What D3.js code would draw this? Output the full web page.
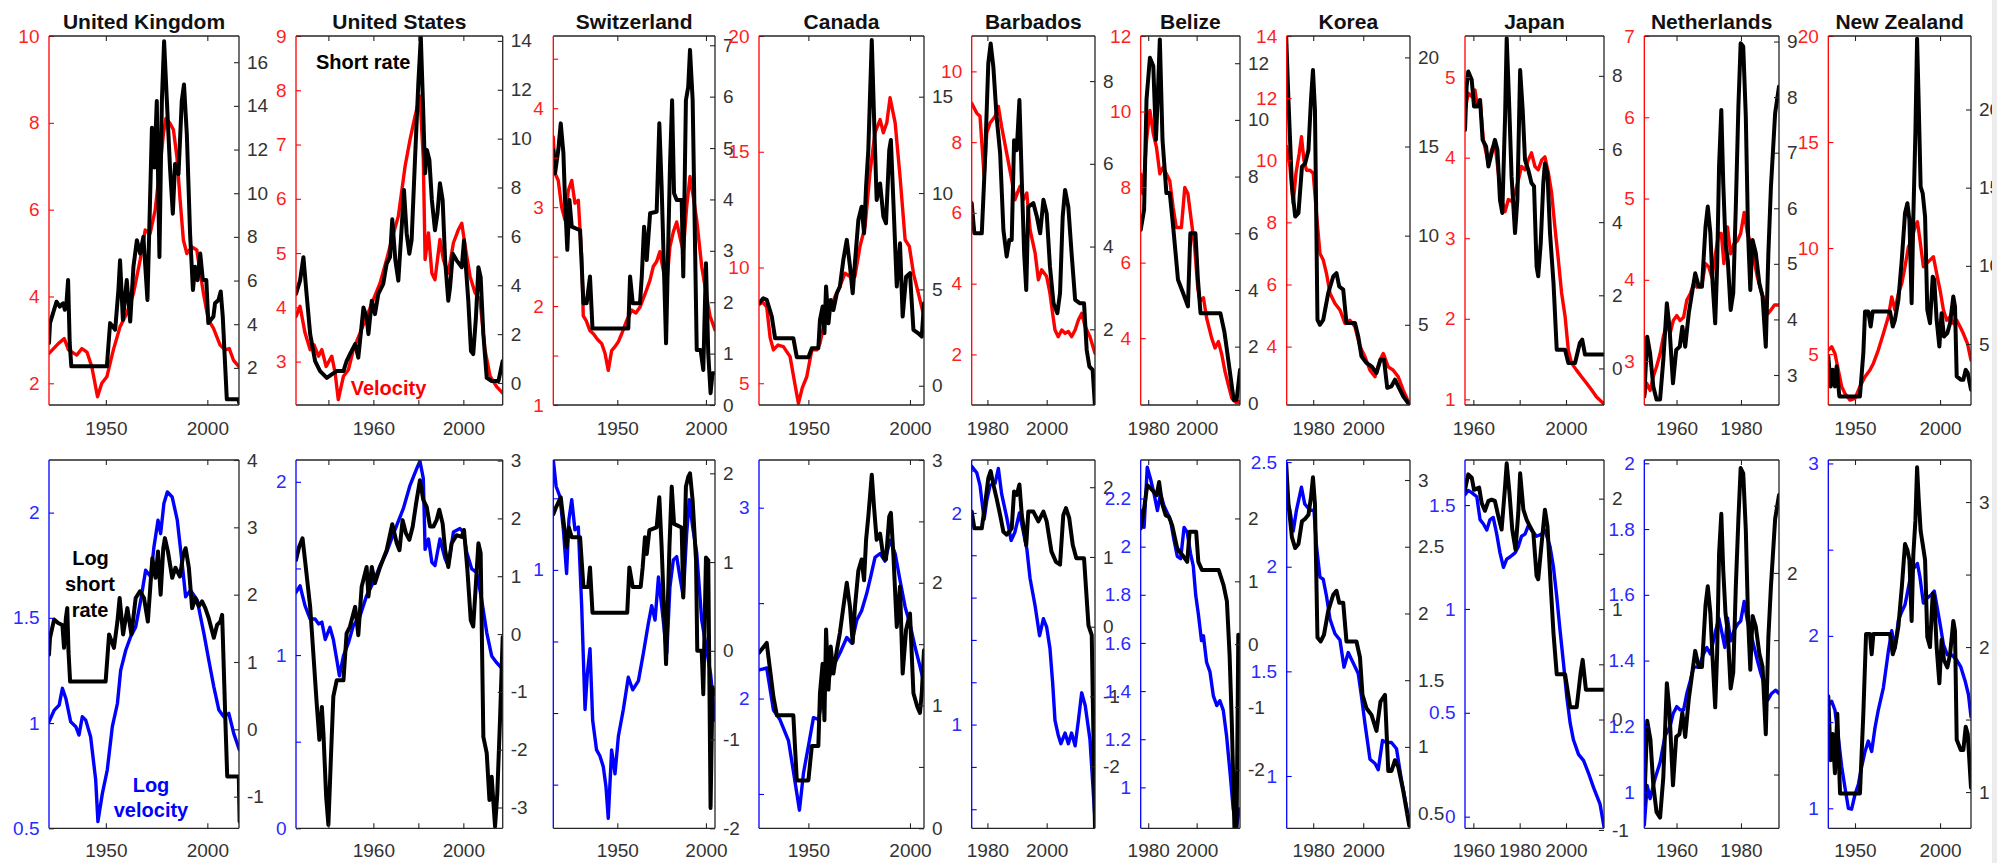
<!DOCTYPE html>
<html>
<head>
<meta charset="utf-8">
<script src="https://cdn.jsdelivr.net/npm/d3@7"></script>
<style>
  html, body { margin: 0; padding: 0; background: #ffffff; }
  svg { display: block; font-family: "Liberation Sans", Arial, Helvetica, sans-serif; }
</style>
</head>
<body>
<script>
// ---------------------------------------------------------------------------
// Series: [year, value]. Top row: velocity (left axis) and short rate (right
// axis). Bottom row: log velocity (left axis) and log short rate (right axis).
// ---------------------------------------------------------------------------
const countries = ["United Kingdom", "United States", "Switzerland", "Canada", "Barbados",
                   "Belize", "Korea", "Japan", "Netherlands", "New Zealand"];

// United Kingdom
const velocityUK = [[1922,2.69],[1926.7,2.92],[1929.5,3.03],[1931.6,2.77],[1935.7,2.65],[1938.2,2.8],[1940.7,2.72],[1943.1,2.38],[1945.9,1.69],[1948,2.0],[1950.5,2.15],[1953.7,2.77],[1957,3.3],[1960.3,3.61],[1963.6,4.07],[1966.9,4.84],[1969.4,5.53],[1971.8,5.45],[1974.3,5.99],[1976.7,6.99],[1978.4,7.76],[1979.6,8.1],[1981.6,7.99],[1983.3,7.84],[1985,7.22],[1986.6,6.22],[1988.2,5.3],[1989.9,4.99],[1992.4,5.14],[1994.8,5.07],[1998.1,4.07],[2000.5,3.46],[2003,3.27],[2006.3,2.88],[2008.7,2.77],[2010.8,2.8],[2012.9,2.53],[2015.7,2.38]];
const shortRateUK = [[1922,3.14],[1922.5,4.05],[1925.7,5.03],[1927.3,4.81],[1929,4.96],[1929.8,4.66],[1930.6,4.96],[1931.4,6.02],[1932.2,3.14],[1933,2.07],[1950.5,2.07],[1952.1,4.05],[1954.6,3.75],[1956.2,5.57],[1957,6.93],[1958.4,4.2],[1960.3,6.02],[1962,4.12],[1963.6,6.63],[1965.3,7.85],[1966.9,7.24],[1968.5,8.0],[1970.5,5.11],[1972.7,13.0],[1973.9,11.18],[1975.1,14.22],[1976.4,7.08],[1977.6,14.22],[1978.7,16.96],[1980,14.37],[1981.6,11.18],[1983,9.06],[1984.1,11.34],[1985.8,10.88],[1987.4,14.22],[1988.5,14.98],[1989.9,12.7],[1991.5,8.15],[1992.9,5.57],[1994,6.63],[1995.2,6.02],[1996.5,7.24],[1997.8,6.02],[1999.5,6.02],[2000.5,4.05],[2003,4.35],[2003.8,4.96],[2005.5,5.11],[2006.6,5.5],[2007.6,4.35],[2009.6,0.56],[2015.4,0.56],[2015.7,0.4]];
const logVelocityUK = [[1922,1.006],[1924.5,1.06],[1927,1.085],[1928.6,1.165],[1930.3,1.117],[1932.7,1.006],[1935.2,0.983],[1936.8,0.943],[1938.4,1.03],[1940.1,1.014],[1942.5,0.935],[1945,0.73],[1946.1,0.532],[1948.3,0.666],[1950.7,0.777],[1953.2,0.983],[1955.7,1.093],[1957.3,1.25],[1959.8,1.346],[1962.2,1.41],[1964.7,1.457],[1967.2,1.584],[1969.6,1.726],[1972.1,1.695],[1973.7,1.837],[1975.7,1.964],[1977,1.9],[1978.6,2.043],[1980.3,2.098],[1982.7,2.074],[1985.2,1.964],[1987.6,1.758],[1989.3,1.6],[1991.7,1.631],[1995,1.584],[1998.3,1.426],[2000.7,1.3],[2003.2,1.172],[2005.7,1.062],[2008.1,1.03],[2010.6,1.046],[2013,0.951],[2015.8,0.872]];
const logShortRateUK = [[1922,1.11],[1922.5,1.36],[1924.5,1.63],[1926.5,1.58],[1928.6,1.55],[1929.4,1.21],[1930.3,1.65],[1931,1.8],[1931.6,1.16],[1932.4,0.71],[1949.9,0.71],[1951.6,1.41],[1954,1.21],[1955.7,1.6],[1956.8,1.95],[1958.5,1.41],[1960.6,1.8],[1962.6,1.41],[1964.7,1.95],[1966.8,2.05],[1968.8,1.95],[1970.7,1.6],[1972.9,2.54],[1974.5,2.25],[1975.7,2.64],[1977,2.0],[1978.3,2.69],[1979.1,2.84],[1980.6,2.64],[1982.7,2.25],[1984.3,2.4],[1986.5,2.27],[1988.1,2.59],[1989.3,2.69],[1990.9,2.4],[1992.5,1.8],[1994.1,1.95],[1995.8,1.83],[1997.4,1.9],[1999,1.8],[2000.7,1.65],[2003.2,1.36],[2004.8,1.55],[2006.4,1.6],[2007.3,1.7],[2008.9,0.12],[2009.8,-0.7],[2015.5,-0.7],[2015.9,-1.37]];

// United States
const velocityUS = [[1925.6,3.83],[1927.4,4.02],[1929.6,3.53],[1931.9,3.22],[1933.6,3.31],[1935.6,3.1],[1937.1,3.22],[1939,2.91],[1941.5,3.1],[1943,2.79],[1944.4,2.3],[1946.7,2.73],[1948.9,2.85],[1951.1,3.22],[1954.1,3.53],[1957,3.83],[1960,4.14],[1963,4.45],[1965.9,4.88],[1968.2,5.25],[1971.1,5.68],[1974.1,6.6],[1976.3,7.09],[1978.5,7.52],[1980.7,7.89],[1982.2,6.73],[1983,4.88],[1984.5,5.37],[1986,4.63],[1987.4,4.51],[1989.6,5.25],[1991.1,4.88],[1993.3,4.63],[1995.6,5.19],[1997.8,5.43],[1999.3,5.55],[2000.8,5.13],[2003,4.57],[2005.2,4.27],[2007.4,4.14],[2009.6,3.22],[2011.9,2.73],[2014.8,2.54],[2017.5,2.42]];
const shortRateUS = [[1925.6,3.65],[1927.4,4.19],[1928.9,5.15],[1930.3,3.65],[1931.9,2.0],[1934.1,0.9],[1936.3,0.49],[1939.3,0.21],[1941.5,0.35],[1943.7,0.49],[1946.7,0.49],[1948.1,0.9],[1949.6,1.18],[1951.9,1.59],[1953.3,1.04],[1955.6,3.09],[1957,2.68],[1957.8,2.0],[1959.3,3.37],[1960.7,2.82],[1962.2,3.65],[1964.4,4.06],[1965.9,4.88],[1967.4,5.15],[1968.4,6.7],[1969.8,5.0],[1971.1,4.19],[1972.6,6.39],[1973.6,7.9],[1974.8,6.12],[1976,5.29],[1977,5.84],[1978.5,9.13],[1980,12.29],[1981.1,14.14],[1982,11.6],[1983,8.58],[1983.8,9.54],[1984.9,9.13],[1986,7.49],[1987.4,6.25],[1988.5,6.94],[1989.6,8.17],[1990.8,7.49],[1991.9,5.02],[1993.3,3.37],[1994.1,3.92],[1995.3,5.29],[1997,5.02],[1999.3,4.74],[2000.3,5.84],[2002.2,3.37],[2003.4,1.31],[2004.4,1.18],[2005.6,2.68],[2006.7,4.74],[2007.7,4.33],[2008.9,2.0],[2010.4,0.21],[2012.6,0.08],[2015.6,0.08],[2017.5,0.9]];
const logVelocityUS = [[1925.6,1.362],[1927.4,1.4],[1929.6,1.285],[1931.9,1.208],[1934.1,1.208],[1935.6,1.18],[1937.1,1.19],[1938.6,1.09],[1940.7,1.16],[1942.2,1.09],[1943.7,0.976],[1944.9,0.88],[1946.7,0.995],[1948.9,1.07],[1951.1,1.17],[1954.1,1.227],[1957,1.343],[1960,1.42],[1963,1.517],[1965.9,1.594],[1968.9,1.7],[1973.3,1.845],[1976.3,1.98],[1979.3,2.077],[1980.7,2.12],[1982.2,2.02],[1983,1.61],[1984.5,1.67],[1986,1.536],[1987.4,1.517],[1989.6,1.67],[1991.9,1.556],[1993.3,1.517],[1995.6,1.71],[1998.5,1.73],[2000,1.71],[2001.5,1.594],[2003.7,1.498],[2005.9,1.478],[2008.1,1.324],[2010.4,1.13],[2012.6,0.995],[2014.8,0.956],[2017.5,0.918]];
const logShortRateUS = [[1925.6,1.28],[1927,1.51],[1928.5,1.655],[1929.6,1.28],[1931.9,0.47],[1933.3,-0.33],[1934.8,-1.2],[1936,-1.83],[1937.1,-1.26],[1937.8,-1.72],[1939,-2.81],[1940,-3.3],[1941.2,-2.06],[1942.2,-1.08],[1943.7,-0.8],[1946.7,-0.8],[1948.1,0.01],[1949.6,0.13],[1951.9,0.47],[1953.3,-0.02],[1954.8,0.82],[1957,1.16],[1957.8,0.65],[1959.3,1.16],[1960.7,0.88],[1963,1.16],[1965.9,1.45],[1968.4,1.9],[1970.4,1.57],[1971.6,1.45],[1973,1.97],[1974.5,1.74],[1976,1.63],[1977.5,1.86],[1979,2.26],[1980.7,2.66],[1982.2,2.32],[1983.7,2.2],[1985.2,1.86],[1986.7,1.86],[1988.1,1.97],[1989.3,2.15],[1990.8,1.91],[1991.9,1.45],[1993.3,1.16],[1994.8,1.57],[1997,1.71],[1999.3,1.68],[2000.3,1.8],[2001.8,1.11],[2003.3,0.24],[2004.4,0.13],[2005.6,0.88],[2006.7,1.57],[2007.7,1.4],[2008.9,-1.78],[2010.4,-2.06],[2011.6,-2.87],[2012.6,-2.47],[2014.1,-3.33],[2015.1,-2.76],[2016.3,-1.49],[2017.5,-0.05]];

// Switzerland
const velocityCH = [[1913.9,3.71],[1914.9,3.34],[1916.7,3.27],[1918.6,3.0],[1920.5,2.87],[1922.4,3.17],[1924.3,3.27],[1926.1,3.04],[1928,3.07],[1929.9,2.5],[1930.8,1.9],[1932.5,1.85],[1934.6,1.75],[1936.5,1.72],[1939,1.66],[1941.2,1.62],[1943.1,1.52],[1944.9,1.35],[1946.8,1.55],[1948.7,1.59],[1950.6,1.64],[1952.5,1.72],[1955.2,1.85],[1958.1,1.96],[1960.5,1.93],[1962.8,1.99],[1965.6,2.12],[1968.4,2.26],[1970.3,2.4],[1972.2,2.45],[1974,2.55],[1975.5,2.4],[1977.7,2.2],[1979.7,2.6],[1981.6,2.75],[1983.5,2.85],[1985.3,2.7],[1987.2,2.55],[1989.1,3.0],[1991,3.31],[1992.9,3.1],[1994.8,2.87],[1997.6,2.4],[2000.4,2.1],[2002.3,1.9],[2005.1,1.76]];
const shortRateCH = [[1913.9,4.96],[1914.9,4.51],[1916.7,4.96],[1918.1,5.48],[1919.6,4.9],[1920.5,3.99],[1921.8,3.02],[1923,3.99],[1924.3,3.47],[1929,3.4],[1930.9,1.98],[1932.7,1.98],[1934.6,2.5],[1936,1.49],[1956.2,1.49],[1957.2,2.5],[1958.7,1.98],[1962.8,1.98],[1963.8,2.5],[1965.1,3.47],[1966.6,2.82],[1968.5,3.73],[1972.2,3.76],[1973.7,5.48],[1975,4.25],[1977.5,1.2],[1979.7,4.64],[1980.9,5.93],[1982,4.12],[1983.5,3.99],[1986.3,3.99],[1987.2,2.5],[1988.7,5.93],[1990,6.19],[1991,6.91],[1992.5,5.93],[1994.8,1.07],[1997,1.07],[1998.5,0.68],[2000,2.76],[2001.3,1.0],[2002.6,0.23],[2003.7,0.62],[2005.1,0.62]];
const logVelocityCH = [[1913.9,1.307],[1915.5,1.233],[1917.6,1.205],[1919.6,1.112],[1921.4,0.99],[1922.7,1.14],[1924.3,1.196],[1926.1,1.112],[1928,1.12],[1929.9,0.9],[1931.8,0.61],[1933.1,0.71],[1934.6,0.78],[1936.1,0.58],[1938.3,0.497],[1940.2,0.48],[1942.1,0.45],[1943.6,0.395],[1944.9,0.306],[1946.8,0.497],[1948.7,0.43],[1950.6,0.535],[1953.4,0.61],[1956.2,0.7],[1958.7,0.665],[1961.9,0.69],[1964.7,0.767],[1967.5,0.85],[1969.4,0.9],[1971.3,0.86],[1973.2,0.98],[1975,0.9],[1977.9,0.767],[1979.7,0.953],[1981.6,1.028],[1983.5,1.037],[1985.3,0.98],[1987.2,0.926],[1989.1,1.1],[1990.6,1.196],[1992.5,1.12],[1994.8,1.047],[1997.6,0.86],[2000.4,0.777],[2002.6,0.71],[2005.1,0.58]];
const logShortRateCH = [[1913.9,1.54],[1915.5,1.62],[1918.1,1.73],[1919.6,1.47],[1921.4,1.17],[1922.7,1.39],[1924.3,1.28],[1929,1.28],[1930.9,0.72],[1933.6,0.72],[1934.6,0.94],[1936,0.43],[1955.6,0.43],[1956.8,0.94],[1958.7,0.72],[1963.2,0.72],[1964.3,0.94],[1965.6,1.28],[1966.6,1.09],[1968.1,1.36],[1972.2,1.39],[1973.7,1.73],[1975,1.17],[1977.5,-0.15],[1979.4,1.17],[1980.7,1.85],[1982,1.43],[1986.3,1.39],[1987.2,0.6],[1988.7,1.85],[1990,1.96],[1991,2.0],[1992.5,1.69],[1994.4,1.02],[1995.1,0.0],[1997.6,0.0],[1998.5,-0.49],[2000,1.05],[2001.3,1.02],[2002.6,-1.77],[2003.7,-0.41],[2005.1,-0.49]];

// Canada
const velocityCA = [[1925.7,8.4],[1927.5,8.5],[1929.5,8.3],[1930.5,7.5],[1931.2,6.96],[1932.8,6.44],[1935,6.65],[1937.7,6.58],[1941,6.15],[1943.3,5.0],[1945.1,4.13],[1947,4.8],[1949.2,5.28],[1951.7,6.44],[1954.1,6.44],[1955.7,6.72],[1958.2,7.73],[1960.6,8.17],[1963.1,8.74],[1965.5,9.18],[1968,9.75],[1970.5,9.61],[1972.9,9.61],[1975.4,10.91],[1977.9,11.77],[1980.3,14.08],[1982.8,15.82],[1985.3,16.39],[1986.9,15.82],[1988.6,16.25],[1990.2,17.33],[1992.7,16.25],[1995.1,13.94],[1997.6,11.2],[1999.7,10.91],[2001.7,9.75],[2004.1,8.89],[2006.9,7.88]];
const shortRateCA = [[1925.7,4.28],[1927.8,4.54],[1929.5,4.46],[1932,3.59],[1933.6,2.47],[1942.6,2.47],[1944.3,1.48],[1950,1.48],[1951.7,1.95],[1954.9,1.95],[1955.7,3.42],[1957,4.11],[1957.9,2.73],[1958.7,5.15],[1959.9,3.24],[1961,4.45],[1962.3,3.93],[1964,4.8],[1965.5,5.15],[1967.2,6.53],[1968.9,7.57],[1970.5,6.18],[1971.8,4.8],[1972.9,6.36],[1974.6,8.6],[1976.2,9.29],[1977.4,7.91],[1978.4,10.33],[1979.5,12.23],[1981.2,17.94],[1982.3,13.96],[1983.6,9.64],[1985.3,10.5],[1986.9,8.78],[1988.2,8.43],[1989.8,12.23],[1990.6,12.75],[1991.8,9.64],[1993.5,5.15],[1995.1,7.39],[1996.4,3.59],[1998.1,5.66],[2000,5.84],[2001.7,2.9],[2004.1,2.72],[2005.8,2.55],[2006.9,4.28]];
const logVelocityCA = [[1925.7,2.15],[1929.5,2.16],[1932.8,1.94],[1936,1.89],[1940.2,1.78],[1942.6,1.62],[1945.6,1.415],[1947.6,1.61],[1950,1.75],[1952.5,1.9],[1955,1.89],[1957.4,2.03],[1959.9,2.1],[1962.3,2.17],[1965.6,2.24],[1968.9,2.32],[1971.3,2.29],[1973.8,2.41],[1976.2,2.46],[1978.7,2.55],[1980.7,2.64],[1982.8,2.74],[1985.3,2.76],[1987.7,2.72],[1990.2,2.83],[1992.7,2.76],[1995.1,2.62],[1997.6,2.48],[2000,2.39],[2002.5,2.27],[2004.9,2.17],[2006.9,2.08]];
const logShortRateCA = [[1925.7,1.43],[1929.5,1.51],[1932.8,1.07],[1934.5,0.92],[1942.6,0.92],[1944.3,0.39],[1950,0.39],[1951.7,0.67],[1954.9,0.67],[1955.7,1.1],[1957,1.34],[1957.9,0.88],[1958.7,1.62],[1959.9,1.13],[1961,1.48],[1962.3,1.26],[1964,1.45],[1965.5,1.59],[1967.2,1.8],[1968.9,2.0],[1970.5,1.8],[1971.8,1.51],[1972.9,1.8],[1974.6,2.1],[1976.2,2.19],[1977.4,2.02],[1978.4,2.35],[1979.5,2.54],[1981.2,2.88],[1982.3,2.62],[1983.6,2.35],[1985.3,2.4],[1986.9,2.21],[1988.2,2.19],[1989.8,2.54],[1990.6,2.57],[1991.8,2.24],[1993.5,1.64],[1995.1,1.97],[1996.4,1.26],[1998.1,1.62],[2000,1.75],[2001.7,1.1],[2003.6,0.99],[2004.9,0.94],[2005.8,1.1],[2006.9,1.45]];

// Barbados
const velocityBB = [[1974.7,9.1],[1976.4,8.82],[1977.5,8.73],[1978.9,7.03],[1979.8,8.26],[1980.9,8.54],[1982.6,8.73],[1983.7,9.01],[1984.8,8.44],[1986.5,7.69],[1988.2,6.94],[1989.3,6.37],[1990.1,6.56],[1991,6.75],[1992.1,6.37],[1993.3,6.56],[1994.4,5.52],[1996.1,4.86],[1997.2,4.11],[1998.3,4.39],[2000,4.2],[2001.1,3.73],[2002,3.16],[2002.8,2.69],[2003.9,2.5],[2005.1,2.69],[2006.2,2.6],[2007.3,2.65],[2008.4,2.5],[2009.6,2.69],[2010.7,2.97],[2011.8,3.16],[2013,2.79],[2014.6,2.5],[2016.3,2.03]];
const shortRateBB = [[1974.7,5.05],[1975.6,4.32],[1978.1,4.32],[1979.2,6.09],[1980.3,8.43],[1981.1,8.91],[1982,8.35],[1983.1,7.14],[1984.3,6.25],[1985.4,4.4],[1986.5,3.76],[1987.4,4.16],[1988.2,4.16],[1989,6.57],[1989.9,6.33],[1990.8,7.54],[1991.6,5.61],[1992.4,3.84],[1993.1,2.95],[1993.8,4.96],[1995.5,5.05],[1996.7,4.72],[1997.8,4.32],[1998.9,5.13],[2000,4.8],[2001.1,3.52],[2002.3,2.63],[2003.6,2.39],[2004.5,2.87],[2005.4,4.72],[2006.2,5.37],[2007.3,4.96],[2008.4,3.84],[2009.6,2.71],[2011.2,2.63],[2012.6,2.63],[2013.5,1.5],[2014.4,1.1],[2015.5,1.02],[2016.3,0.13]];
const logVelocityBB = [[1974.7,2.22],[1976.4,2.19],[1977.5,2.13],[1978.9,1.97],[1979.8,2.06],[1980.9,2.13],[1982.6,2.14],[1983.7,2.21],[1984.8,2.09],[1986.5,1.98],[1988,1.87],[1989.3,1.91],[1990.8,2.0],[1992,1.92],[1993.3,1.83],[1994.4,1.69],[1996.1,1.56],[1997.6,1.42],[1998.9,1.5],[2000,1.46],[2001.1,1.36],[2002,1.2],[2002.8,1.02],[2003.9,0.95],[2004.8,0.91],[2006.2,0.96],[2007.3,0.91],[2008.4,0.96],[2009.6,0.9],[2010.7,1.02],[2011.8,1.15],[2013,1.09],[2014.6,0.93],[2016.3,0.55]];
const logShortRateBB = [[1974.7,1.65],[1975.6,1.41],[1978.1,1.41],[1979.2,1.75],[1980.3,2.13],[1981.1,2.23],[1982,2.04],[1983.1,1.84],[1984.3,1.6],[1985.4,1.36],[1986.5,1.32],[1988.2,1.41],[1989,1.94],[1989.9,1.89],[1990.8,2.04],[1991.6,1.6],[1993.1,1.17],[1993.8,1.65],[1995.5,1.65],[1997.2,1.51],[1998.9,1.65],[2000,1.51],[2001.6,1.08],[2003.1,0.93],[2004.5,0.89],[2005.6,1.6],[2006.5,1.7],[2007.6,1.56],[2008.8,1.17],[2010,0.98],[2012.6,0.98],[2014.1,0.02],[2015.2,-0.12],[2016.3,-2.9]];

// Belize
const velocityBZ = [[1976.9,8.35],[1977.8,7.82],[1979.3,9.23],[1980.7,10.03],[1982.1,9.41],[1983.4,9.06],[1984.8,8.35],[1986.1,8.52],[1987.5,8.35],[1988.9,8.17],[1990.3,7.46],[1991.6,6.93],[1993.7,6.93],[1995.1,7.99],[1996.4,7.82],[1997.8,7.11],[1999.2,6.4],[2000.5,5.3],[2001.4,4.98],[2002.8,5.07],[2004.1,4.54],[2006.2,4.0],[2007.6,3.74],[2009,3.91],[2010.4,3.56],[2011.7,3.12],[2013.1,2.76],[2014.5,2.41],[2015.8,2.32],[2017.9,2.32]];
const shortRateBZ = [[1976.9,6.12],[1978.3,6.83],[1979.3,10.72],[1980.7,12.19],[1982.1,11.9],[1983.2,9.3],[1983.9,10.72],[1984.8,12.84],[1985.9,9.3],[1987.5,7.42],[1988.9,7.42],[1990.3,6.24],[1992.3,4.36],[1994.4,3.89],[1996.4,3.42],[1997.4,6.0],[1999.5,6.0],[2000.5,4.4],[2001.6,3.18],[2009.8,3.18],[2011.5,2.5],[2012.5,1.88],[2015.3,0.12],[2016.5,0.12],[2017.9,1.18]];
const logVelocityBZ = [[1976.9,2.15],[1978.3,2.08],[1979.6,2.33],[1981,2.28],[1982.4,2.22],[1983.8,2.15],[1985.1,2.22],[1986.5,2.17],[1987.9,2.14],[1989.2,2.11],[1990.6,2.03],[1992,1.96],[1993.4,1.95],[1994.8,2.08],[1996.1,2.06],[1997.5,1.97],[1998.6,1.92],[1999.6,1.8],[2000.7,1.72],[2002,1.61],[2002.8,1.63],[2004.1,1.52],[2005.5,1.48],[2006.9,1.38],[2008.3,1.34],[2009.6,1.36],[2011,1.32],[2012.4,1.21],[2013.8,1.06],[2015.1,0.91],[2016.5,0.84],[2017.6,0.91]];
const logShortRateBZ = [[1976.9,1.84],[1978.3,2.16],[1979.6,2.53],[1981,2.48],[1982.4,2.42],[1983.5,2.37],[1984.5,2.58],[1985.6,2.26],[1987.2,2.05],[1988.5,2.03],[1989.9,1.89],[1992,1.52],[1994.1,1.42],[1996.1,1.31],[1997.1,1.79],[1999.8,1.79],[2000.7,1.31],[2002.2,1.18],[2009.1,1.18],[2011.1,0.94],[2012.5,0.68],[2013.6,-0.17],[2014.5,-1.23],[2015.6,-2.92],[2016.5,-2.92],[2017.2,0.15]];

// Korea
const velocityKR = [[1969.4,10.44],[1970.7,9.79],[1972,8.61],[1973.1,9.58],[1974.4,10.22],[1975.3,10.76],[1976.3,10.0],[1977.3,9.68],[1978.7,9.68],[1980,9.58],[1981.3,8.29],[1982.7,7.0],[1984,6.79],[1985.3,6.36],[1986.7,5.72],[1988.7,5.39],[1990.7,5.18],[1992.7,4.75],[1994.7,4.85],[1996.7,4.64],[1998.7,4.0],[2000.7,3.67],[2002.7,3.24],[2004.7,3.03],[2006.7,3.57],[2008,3.78],[2010,3.35],[2012,3.24],[2014,3.03],[2016,2.6],[2018.7,2.12]];
const shortRateKR = [[1969.2,21.16],[1970.1,17.61],[1971.5,12.75],[1972.8,11.07],[1974.1,11.26],[1975.5,13.87],[1976.8,14.06],[1978.1,14.81],[1979.1,17.61],[1979.9,19.29],[1980.7,17.05],[1981.7,5.28],[1982.7,5.0],[1984,5.28],[1986,6.78],[1988,7.71],[1989.3,7.9],[1990.4,7.15],[1992,6.97],[1993.3,5.1],[1996.7,5.1],[1998,4.35],[1999.3,3.23],[2001.3,2.86],[2003.3,2.67],[2005.3,2.3],[2006.9,3.04],[2008.3,3.04],[2009.6,1.46],[2011.3,1.55],[2012.7,1.92],[2014,1.55],[2016,0.99],[2018.4,0.52]];
const logVelocityKR = [[1969.4,2.33],[1970.7,2.27],[1972,2.17],[1973.3,2.27],[1974.4,2.33],[1975.3,2.38],[1976.6,2.3],[1978.7,2.27],[1980.3,2.27],[1981.3,2.1],[1982.7,1.95],[1984,1.94],[1985.3,1.86],[1986.7,1.75],[1988.7,1.68],[1990.7,1.65],[1992.3,1.52],[1994,1.59],[1996,1.54],[1998,1.49],[1999.3,1.38],[2000.7,1.25],[2002.7,1.08],[2004.7,1.06],[2006,1.03],[2007.7,1.17],[2009.3,1.16],[2011.3,1.16],[2013.3,1.13],[2015.3,0.98],[2018.4,0.78]];
const logShortRateKR = [[1969.2,3.12],[1970.1,2.82],[1971.5,2.57],[1972.8,2.49],[1974.1,2.52],[1975.5,2.69],[1976.8,2.71],[1978.1,2.74],[1979.1,2.87],[1979.9,3.02],[1980.7,2.82],[1981.7,1.82],[1983,1.79],[1984.3,1.84],[1986,2.02],[1988,2.14],[1989.3,2.17],[1990.4,2.08],[1992,2.08],[1993.3,1.79],[1997.3,1.79],[1998.7,1.67],[1999.7,1.39],[2001.3,1.29],[2003.3,1.24],[2005.3,1.12],[2006.9,1.34],[2008.7,1.39],[2010,0.82],[2011.3,0.82],[2012.7,0.9],[2014,0.85],[2016,0.67],[2018.4,0.41]];

// Japan
const velocityJP = [[1956.4,4.59],[1957.8,4.8],[1959.3,4.76],[1960.7,4.84],[1961.7,4.64],[1962.9,4.72],[1964.3,4.22],[1966.5,3.93],[1967.9,4.1],[1969.3,4.18],[1970.8,3.81],[1972.2,3.48],[1973.7,3.33],[1975.1,3.48],[1976.5,3.46],[1978,3.56],[1979.4,3.72],[1980.8,3.89],[1982.3,3.85],[1983.7,3.97],[1985.1,4.06],[1986.6,3.89],[1988,3.85],[1989.5,3.97],[1990.9,4.01],[1992.4,3.81],[1993.8,3.56],[1995.2,3.14],[1996.7,2.73],[1998.1,2.32],[1999.6,2.03],[2001,1.61],[2002.4,1.45],[2004.6,1.36],[2006.7,1.28],[2008.9,1.2],[2011,1.12],[2013.2,1.03],[2016.1,0.95]];
const shortRateJP = [[1956.4,6.52],[1957.1,7.71],[1957.8,8.12],[1959.3,7.89],[1960.3,7.16],[1961.7,7.16],[1962.9,7.34],[1964,6.25],[1965.5,6.07],[1966.5,5.52],[1967.9,5.89],[1969.3,6.25],[1970.4,5.98],[1971.5,4.61],[1972.5,4.25],[1973.7,6.89],[1974.4,9.03],[1975.4,7.34],[1976.5,5.25],[1978,3.7],[1979,4.61],[1980.2,8.16],[1981.3,7.07],[1982.3,5.7],[1983.7,5.43],[1985.1,5.07],[1986.2,4.98],[1987.3,2.79],[1988,2.52],[1989.1,3.43],[1990.2,5.07],[1990.9,5.61],[1992,5.34],[1993.1,3.7],[1994.6,2.34],[1996,0.51],[1999.6,0.51],[2001,0.15],[2003.9,0.15],[2006,0.7],[2007,0.79],[2008.2,0.38],[2016.4,0.38]];
const logVelocityJP = [[1956.4,1.55],[1957.8,1.57],[1959.3,1.56],[1961.5,1.54],[1962.9,1.43],[1964.3,1.41],[1965.8,1.38],[1967.2,1.43],[1968.6,1.44],[1970.1,1.36],[1971.5,1.27],[1973,1.2],[1974.4,1.24],[1975.8,1.25],[1978,1.27],[1979.4,1.3],[1980.8,1.35],[1982.3,1.36],[1983.7,1.4],[1985.1,1.38],[1987.3,1.35],[1989.5,1.36],[1990.9,1.38],[1993.1,1.3],[1994.6,1.2],[1996,1.06],[1997.4,0.9],[1998.9,0.74],[2000.3,0.58],[2001.8,0.45],[2003.2,0.37],[2005.4,0.3],[2007.6,0.27],[2009.7,0.21],[2011.9,0.14],[2014.7,0.06],[2016.4,-0.05]];
const logShortRateJP = [[1956.4,2.08],[1957.8,2.22],[1959.3,2.19],[1960.3,2.08],[1962.5,2.1],[1963.6,1.96],[1965,1.89],[1966.5,1.98],[1967.9,1.99],[1969.3,1.98],[1970.8,1.84],[1972.2,1.72],[1973.7,2.11],[1974.4,2.32],[1975.6,2.05],[1976.8,1.72],[1978.2,1.54],[1979.4,1.87],[1980.2,2.23],[1981.6,1.9],[1983,1.81],[1984.4,1.75],[1985.9,1.69],[1987.3,1.3],[1988,1.27],[1989.5,1.6],[1990.9,1.9],[1992,1.75],[1993.4,1.21],[1994.6,0.78],[1996,0.41],[1999.6,0.41],[2001.8,0.11],[2004.6,0.11],[2006.3,0.42],[2007.2,0.54],[2008.6,0.27],[2016.4,0.27]];

// Netherlands
const velocityNL = [[1950,2.56],[1950.7,2.73],[1951.8,2.64],[1952.8,2.81],[1953.8,2.93],[1954.9,3.09],[1955.9,3.3],[1957,3.46],[1958,3.34],[1959,3.5],[1960.1,3.56],[1961.1,3.5],[1962.2,3.54],[1963.2,3.75],[1964.3,3.83],[1965.3,3.95],[1966.3,3.91],[1967.9,3.95],[1969,4.2],[1970,4.16],[1971,4.03],[1972.1,4.32],[1973.1,4.57],[1973.9,4.57],[1974.7,4.2],[1975.8,4.65],[1976.8,4.32],[1977.8,4.44],[1978.9,4.48],[1979.9,4.57],[1981,4.83],[1982,4.57],[1983.1,4.44],[1984.1,4.24],[1985.1,4.03],[1986.2,3.87],[1987.2,3.75],[1988.3,3.58],[1989.3,3.63],[1990.4,3.69],[1991.8,3.69]];
const shortRateNL = [[1950,2.62],[1950.9,3.69],[1951.8,3.39],[1952.8,2.79],[1953.8,2.56],[1954.9,2.56],[1955.9,3.27],[1957,4.29],[1957.8,3.87],[1958.9,2.85],[1959.9,3.45],[1961,3.51],[1961.8,3.87],[1962.7,3.51],[1963.8,4.11],[1964.8,4.47],[1965.8,4.83],[1966.9,4.59],[1967.9,4.59],[1969,5.67],[1969.7,6.03],[1970.5,5.55],[1971.2,4.65],[1972,3.93],[1972.6,4.95],[1973.2,6.75],[1973.9,7.77],[1974.5,6.45],[1975.2,5.37],[1975.9,5.07],[1976.8,4.17],[1977.6,4.47],[1978.4,6.03],[1979.2,7.83],[1979.9,8.97],[1980.7,8.91],[1981.5,7.65],[1982.2,5.55],[1982.9,4.53],[1983.6,5.43],[1984.6,5.19],[1985.7,4.65],[1986.7,4.41],[1987.7,3.51],[1988.5,5.19],[1989.3,6.39],[1990.6,7.71],[1991.8,8.19]];
const logVelocityNL = [[1950,0.9],[1950.9,1.02],[1951.8,0.98],[1953.3,1.04],[1954.9,1.09],[1956.4,1.17],[1958,1.2],[1959,1.24],[1960.1,1.26],[1961.1,1.25],[1962.2,1.25],[1963.2,1.3],[1964.3,1.34],[1965.3,1.38],[1966.9,1.38],[1968.4,1.42],[1969.4,1.44],[1970.5,1.42],[1971.9,1.48],[1973.1,1.53],[1974.2,1.48],[1975,1.44],[1975.8,1.53],[1976.8,1.46],[1977.8,1.49],[1978.9,1.51],[1979.9,1.52],[1981,1.58],[1982,1.52],[1983.1,1.48],[1984.1,1.44],[1985.1,1.4],[1986.2,1.36],[1987.2,1.33],[1988.3,1.28],[1989.5,1.3],[1990.8,1.31],[1991.8,1.3]];
const logShortRateNL = [[1950,1.14],[1950.9,1.45],[1951.9,1.38],[1952.8,1.21],[1953.8,1.11],[1954.9,1.09],[1955.9,1.24],[1957,1.59],[1957.8,1.49],[1958.9,1.21],[1959.9,1.39],[1960.9,1.4],[1961.8,1.48],[1962.7,1.39],[1963.8,1.53],[1964.8,1.62],[1965.8,1.71],[1966.9,1.65],[1967.9,1.65],[1969,1.88],[1969.7,1.95],[1970.5,1.85],[1971.2,1.68],[1972,1.5],[1972.6,1.7],[1973.2,2.07],[1973.9,2.22],[1974.5,2.01],[1975.2,1.85],[1975.9,1.78],[1976.8,1.57],[1977.6,1.63],[1978.4,1.95],[1979.2,2.2],[1979.9,2.39],[1980.7,2.37],[1981.5,2.16],[1982.2,1.83],[1982.9,1.64],[1983.6,1.84],[1984.6,1.8],[1985.7,1.7],[1986.7,1.65],[1987.7,1.4],[1988.5,1.76],[1989.3,1.95],[1990.6,2.2],[1991.8,2.29]];

// New Zealand
const velocityNZ = [[1934.3,5.19],[1936.3,5.35],[1938.2,5.03],[1940.2,4.25],[1942.2,3.46],[1944.1,3.14],[1947.1,2.83],[1950,2.91],[1952.9,3.46],[1955.9,3.93],[1958.8,4.25],[1960.8,4.56],[1963.7,5.19],[1966.7,5.97],[1969.6,6.76],[1971.6,7.7],[1973.5,7.08],[1975.5,7.86],[1977.5,8.33],[1979.4,9.12],[1981.4,10.06],[1983.3,10.38],[1985.3,11.0],[1986.7,11.24],[1988.2,10.38],[1990.2,9.12],[1992.2,9.28],[1994.1,9.43],[1996.1,9.59],[1998,8.81],[2000,8.02],[2002,7.08],[2003.9,6.6],[2005.9,6.76],[2007.8,6.45],[2009.8,6.6],[2011.8,6.29],[2013.7,5.97],[2016.1,5.5],[2018.2,4.72]];
const shortRateNZ = [[1934.3,4.21],[1935.7,2.29],[1936.9,3.35],[1938.2,2.29],[1939.2,3.57],[1940.8,1.65],[1952.9,1.65],[1954.9,4.42],[1955.9,7.08],[1957.8,7.08],[1959.2,6.12],[1960.4,7.08],[1970.6,7.08],[1972.2,6.12],[1973.5,6.55],[1975.5,7.82],[1977.5,10.38],[1979.4,13.36],[1980.8,14.0],[1982,12.93],[1983.3,7.61],[1984.3,13.15],[1985.5,18.47],[1986.5,24.53],[1987.4,20.6],[1988.6,15.06],[1989.8,14.64],[1991.2,13.15],[1992.5,7.19],[1994.1,6.33],[1995.7,9.31],[1996.6,9.1],[1998,6.55],[1999.6,4.84],[2000.9,6.97],[2002.3,5.48],[2004.3,5.7],[2005.9,6.33],[2007.8,8.04],[2008.8,7.4],[2009.8,2.93],[2012.2,2.72],[2013.7,2.72],[2015.1,3.35],[2016.3,3.14],[2018.2,2.08]];
const logVelocityNZ = [[1934.3,1.6],[1936.3,1.62],[1938.2,1.57],[1940.2,1.41],[1942.2,1.24],[1944.1,1.12],[1946.1,1.0],[1948,0.995],[1950,1.08],[1952,1.14],[1953.9,1.24],[1955.9,1.33],[1957.8,1.39],[1959.8,1.33],[1961.8,1.47],[1963.7,1.57],[1966.7,1.7],[1969.6,1.91],[1971.6,2.03],[1973.5,1.93],[1975.5,2.09],[1977.5,2.14],[1979.4,2.18],[1981.4,2.28],[1983.3,2.38],[1985.3,2.4],[1986.7,2.42],[1988.2,2.34],[1990.2,2.19],[1992.5,2.22],[1995.1,2.24],[1996.6,2.26],[1998.4,2.16],[2000,2.07],[2002,1.95],[2004.3,1.89],[2006.9,1.89],[2009.8,1.86],[2012.2,1.82],[2014.7,1.74],[2016.7,1.66],[2018.2,1.53]];
const logShortRateNZ = [[1934.3,1.66],[1935.7,1.22],[1936.9,1.4],[1938.2,1.13],[1939.6,1.54],[1941.2,0.99],[1952.9,0.99],[1954.9,1.54],[1956.5,2.09],[1958.8,2.09],[1959.8,1.95],[1960.8,2.09],[1970.6,2.09],[1972.2,1.95],[1973.5,2.0],[1975.5,2.14],[1977.5,2.41],[1979.4,2.71],[1980.8,2.67],[1982,2.6],[1983.3,2.18],[1984.3,2.64],[1985.5,2.87],[1986.5,3.24],[1987.4,3.03],[1988.6,2.8],[1989.8,2.71],[1991.2,2.6],[1992.5,2.07],[1994.1,2.0],[1995.7,2.37],[1996.6,2.34],[1998,2.0],[1999.6,1.75],[2000.9,2.05],[2002.3,1.91],[2004.3,1.86],[2005.9,1.95],[2007.8,2.18],[2008.8,2.11],[2009.8,1.36],[2012.2,1.29],[2013.7,1.29],[2015.1,1.45],[2016.3,1.4],[2018.2,1.03]];

// ---------------------------------------------------------------------------
// Axis settings per country: year range, x ticks, and left/right y ranges
// with their ticks (labels default to every tick).
// ---------------------------------------------------------------------------
const topPanels = [
  { x:[1922,2015.6],   xt:[1950,2000], yl:[1.5,10],    ylt:[2,4,6,8,10],           yr:[0.3,17.2],   yrt:[2,4,6,8,10,12,14,16], left:velocityUK, right:shortRateUK },
  { x:[1925.6,2017.5], xt:[1940,1960,1980,2000], xl:[1960,2000], yl:[2.2,9], ylt:[3,4,5,6,7,8,9], yr:[-0.9,14.2], yrt:[0,2,4,6,8,10,12,14], left:velocityUS, right:shortRateUS },
  { x:[1913.9,2005.1], xt:[1950,2000], yl:[1,4.73],    ylt:[1,1.5,2,2.5,3,3.5,4,4.5], yll:[1,2,3,4], yr:[0,7.18], yrt:[0,1,2,3,4,5,6,7], left:velocityCH, right:shortRateCH },
  { x:[1925.7,2006.9], xt:[1950,2000], yl:[4.06,20],   ylt:[5,10,15,20],           yr:[-1,18.15],   yrt:[0,5,10,15], left:velocityCA, right:shortRateCA },
  { x:[1974.7,2016.3], xt:[1980,2000], yl:[0.57,11],   ylt:[2,4,6,8,10],           yr:[0.17,9.09],  yrt:[2,4,6,8], left:velocityBB, right:shortRateBB },
  { x:[1976.9,2017.9], xt:[1980,2000], yl:[2.23,12],   ylt:[4,6,8,10,12],          yr:[-0.06,12.96],yrt:[0,2,4,6,8,10,12], left:velocityBZ, right:shortRateBZ },
  { x:[1969.4,2018.7], xt:[1980,2000], yl:[2.12,14],   ylt:[4,6,8,10,12,14],       yr:[0.5,21.2],   yrt:[5,10,15,20], left:velocityKR, right:shortRateKR },
  { x:[1956.4,2016.4], xt:[1960,1980,2000], xl:[1960,2000], yl:[0.93,5.51], ylt:[1,2,3,4,5], yr:[-1,9.09], yrt:[0,2,4,6,8], left:velocityJP, right:shortRateJP },
  { x:[1950,1991.8],   xt:[1960,1980], yl:[2.46,7],    ylt:[3,4,5,6,7],            yr:[2.46,9.1],   yrt:[3,4,5,6,7,8,9], left:velocityNL, right:shortRateNL },
  { x:[1934.3,2018.2], xt:[1950,2000], yl:[2.6,20],    ylt:[5,10,15,20],           yr:[1.1,24.7],   yrt:[5,10,15,20], left:velocityNZ, right:shortRateNZ }
];

const bottomPanels = [
  { x:[1922,2015.6],   xt:[1950,2000], yl:[0.5,2.25],    ylt:[0.5,1,1.5,2],      yr:[-1.47,4],    yrt:[-1,0,1,2,3,4], left:logVelocityUK, right:logShortRateUK },
  { x:[1925.6,2017.5], xt:[1940,1960,1980,2000], xl:[1960,2000], yl:[0,2.126], ylt:[0,0.5,1,1.5,2], yll:[0,1,2], yr:[-3.36,3.01], yrt:[-3,-2,-1,0,1,2,3], left:logVelocityUS, right:logShortRateUS },
  { x:[1913.9,2005.1], xt:[1950,2000], yl:[0.278,1.307], ylt:[0.4,0.6,0.8,1,1.2], yll:[1], yr:[-2,2.15], yrt:[-2,-1,0,1,2], left:logVelocityCH, right:logShortRateCH },
  { x:[1925.7,2006.9], xt:[1950,2000], yl:[1.32,3.25],   ylt:[1.5,2,2.5,3], yll:[2,3], yr:[0,3], yrt:[0,0.5,1,1.5,2,2.5,3], yrl:[0,1,2,3], left:logVelocityCA, right:logShortRateCA },
  { x:[1974.7,2016.3], xt:[1980,2000], yl:[0.51,2.25],   ylt:[0.6,0.8,1,1.2,1.4,1.6,1.8,2,2.2], yll:[1,2], yr:[-2.89,2.39], yrt:[-2,-1,0,1,2], left:logVelocityBB, right:logShortRateBB },
  { x:[1976.9,2017.9], xt:[1980,2000], yl:[0.83,2.36],   ylt:[1,1.2,1.4,1.6,1.8,2,2.2], yr:[-2.93,2.93], yrt:[-2,-1,0,1,2], left:logVelocityBZ, right:logShortRateBZ },
  { x:[1969.4,2018.7], xt:[1980,2000], yl:[0.75,2.51],   ylt:[1,1.5,2,2.5],      yr:[0.39,3.15],  yrt:[0.5,1,1.5,2,2.5,3], left:logVelocityKR, right:logShortRateKR },
  { x:[1956.4,2016.4], xt:[1960,1980,2000], yl:[-0.056,1.717], ylt:[0,0.5,1,1.5], yr:[-0.985,2.35], yrt:[-1,-0.5,0,0.5,1,1.5,2], yrl:[-1,0,1,2], left:logVelocityJP, right:logShortRateJP },
  { x:[1950,1991.8],   xt:[1960,1980], yl:[0.89,2.01],   ylt:[1,1.2,1.4,1.6,1.8,2], yr:[1.05,2.42], yrt:[1.25,1.5,1.75,2,2.25], yrl:[2], left:logVelocityNL, right:logShortRateNL },
  { x:[1934.3,2018.2], xt:[1950,2000], yl:[0.884,3.02],  ylt:[1,1.5,2,2.5,3], yll:[1,2,3], yr:[0.75,3.29], yrt:[1,1.5,2,2.5,3], yrl:[1,2,3], left:logVelocityNZ, right:logShortRateNZ }
];

// ---------------------------------------------------------------------------
// Layout
// ---------------------------------------------------------------------------
const W = 1997, H = 863;
const columns = [[49,239],[296,502.7],[553.3,715],[759,924],[971.7,1095],
                 [1140.7,1240],[1286.7,1410],[1465,1604],[1644.3,1779],[1828.3,1971]];
const rows = [
  { top: 36,  bottom: 405,   leftColor: "#ff0000", leftText: "#ff1f1f", xPad: 16.5 },
  { top: 460, bottom: 828.3, leftColor: "#0000ff", leftText: "#2a2aff", xPad: 15 }
];
const DARK = "#262626";
const FONT = 19;

const svg = d3.select("body").append("svg")
  .attr("width", W).attr("height", H)
  .attr("viewBox", `0 0 ${W} ${H}`);

const hasTick = list => d => list.some(v => Math.abs(v - d) < 1e-9);
const labeller = list => d => hasTick(list)(d) ? String(d) : "";

function styleAxis(sel, color, textColor) {
  sel.select(".domain").remove();
  sel.attr("font-size", FONT).attr("font-family", null);
  sel.selectAll(".tick line").attr("stroke", color).attr("stroke-width", 1.1);
  sel.selectAll(".tick text").attr("fill", textColor);
}

function drawPanel(cfg, colIdx, rowIdx) {
  const row = rows[rowIdx];
  const [x0, x1] = columns[colIdx];
  const x = d3.scaleLinear().domain(cfg.x).range([x0, x1]);
  const yL = d3.scaleLinear().domain(cfg.yl).range([row.bottom, row.top]);
  const yR = d3.scaleLinear().domain(cfg.yr).range([row.bottom, row.top]);

  const clipId = `clip-${rowIdx}-${colIdx}`;
  svg.append("clipPath").attr("id", clipId).append("rect")
    .attr("x", x0).attr("y", row.top).attr("width", x1 - x0).attr("height", row.bottom - row.top);

  const g = svg.append("g").attr("class", "panel");
  const plot = g.append("g").attr("clip-path", `url(#${clipId})`);

  plot.append("path").datum(cfg.left)
    .attr("d", d3.line().x(d => x(d[0])).y(d => yL(d[1])))
    .attr("fill", "none").attr("stroke", row.leftColor)
    .attr("stroke-width", 3.4).attr("stroke-linejoin", "round").attr("stroke-linecap", "round");
  plot.append("path").datum(cfg.right)
    .attr("d", d3.line().x(d => x(d[0])).y(d => yR(d[1])))
    .attr("fill", "none").attr("stroke", "#000000")
    .attr("stroke-width", 4).attr("stroke-linejoin", "round").attr("stroke-linecap", "round");

  // bottom axis with year labels
  const xb = g.append("g").attr("transform", `translate(0,${row.bottom})`)
    .call(d3.axisBottom(x).tickValues(cfg.xt).tickFormat(labeller(cfg.xl || cfg.xt))
      .tickSizeInner(-5).tickSizeOuter(0).tickPadding(row.xPad));
  styleAxis(xb, DARK, "#333333");
  // top axis: ticks only
  const xt = g.append("g").attr("transform", `translate(0,${row.top})`)
    .call(d3.axisTop(x).tickValues(cfg.xt).tickFormat(() => "").tickSizeInner(-5).tickSizeOuter(0));
  styleAxis(xt, DARK, "#333333");

  // left axis (velocity)
  const al = g.append("g").attr("transform", `translate(${x0},0)`)
    .call(d3.axisLeft(yL).tickValues(cfg.ylt).tickFormat(labeller(cfg.yll || cfg.ylt))
      .tickSizeInner(-5).tickSizeOuter(0).tickPadding(9.5));
  styleAxis(al, row.leftColor, row.leftText);
  // right axis (short rate)
  const ar = g.append("g").attr("transform", `translate(${x1},0)`)
    .call(d3.axisRight(yR).tickValues(cfg.yrt).tickFormat(labeller(cfg.yrl || cfg.yrt))
      .tickSizeInner(-5).tickSizeOuter(0).tickPadding(8));
  styleAxis(ar, DARK, "#333333");

  // frame
  const frame = g.append("g").attr("fill", "none").attr("stroke-width", 1.3);
  frame.append("line").attr("x1", x0).attr("x2", x1).attr("y1", row.top).attr("y2", row.top).attr("stroke", DARK);
  frame.append("line").attr("x1", x0).attr("x2", x1).attr("y1", row.bottom).attr("y2", row.bottom).attr("stroke", DARK);
  frame.append("line").attr("x1", x1).attr("x2", x1).attr("y1", row.top).attr("y2", row.bottom).attr("stroke", DARK);
  frame.append("line").attr("x1", x0).attr("x2", x0).attr("y1", row.top).attr("y2", row.bottom).attr("stroke", row.leftColor);
}

topPanels.forEach((cfg, i) => drawPanel(cfg, i, 0));
bottomPanels.forEach((cfg, i) => drawPanel(cfg, i, 1));

// country titles
svg.append("g").selectAll("text").data(countries).join("text")
  .attr("x", (d, i) => (columns[i][0] + columns[i][1]) / 2)
  .attr("y", 28.5)
  .attr("text-anchor", "middle")
  .attr("font-size", 21).attr("font-weight", "bold").attr("fill", "#111111")
  .text(d => d);

// series annotations
const notes = [
  { text: "Short rate", x: 316,   y: 68.5,  anchor: "start",  color: "#000000" },
  { text: "Velocity",   x: 350.7, y: 395,   anchor: "start",  color: "#ff0000" },
  { text: "Log",        x: 90.5,  y: 565,   anchor: "middle", color: "#000000" },
  { text: "short",      x: 90,    y: 591,   anchor: "middle", color: "#000000" },
  { text: "rate",       x: 90,    y: 617,   anchor: "middle", color: "#000000" },
  { text: "Log",        x: 151,   y: 792,   anchor: "middle", color: "#0000ff" },
  { text: "velocity",   x: 151,   y: 816.5, anchor: "middle", color: "#0000ff" }
];
svg.append("g").selectAll("text").data(notes).join("text")
  .attr("x", d => d.x).attr("y", d => d.y)
  .attr("text-anchor", d => d.anchor)
  .attr("font-size", 20).attr("font-weight", "bold")
  .attr("fill", d => d.color)
  .text(d => d.text);

// light strip along the right edge of the figure
svg.append("rect").attr("x", 1992).attr("y", 0).attr("width", W - 1992).attr("height", H).attr("fill", "#ececec");
</script>
</body>
</html>
